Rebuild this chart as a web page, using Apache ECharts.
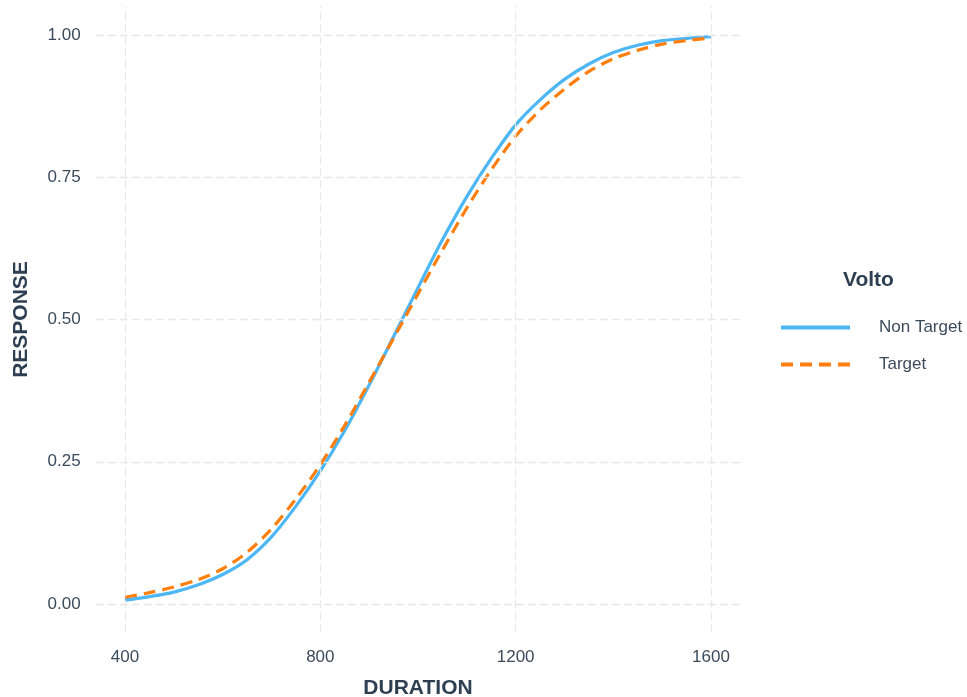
<!DOCTYPE html>
<html>
<head>
<meta charset="utf-8">
<script src="https://cdn.jsdelivr.net/npm/echarts@6/dist/echarts.min.js"></script>
<style>
  html, body { margin: 0; padding: 0; background: #ffffff; }
  #chart { width: 967px; height: 697px; }
</style>
</head>
<body>
<div id="chart"></div>
<script>
// Fitted response curves by stimulus duration
const durations = [400, 450, 500, 550, 600, 650, 700, 750, 800, 850, 900, 950, 1000,
                   1050, 1100, 1150, 1200, 1250, 1300, 1350, 1400, 1450, 1500, 1550, 1600];
const nonTarget = [0.007, 0.013, 0.021, 0.034, 0.052, 0.078, 0.118, 0.172, 0.234, 0.305, 0.385, 0.470, 0.556,
                   0.640, 0.716, 0.783, 0.842, 0.886, 0.922, 0.949, 0.969, 0.982, 0.990, 0.994, 0.997];
const target    = [0.012, 0.020, 0.030, 0.043, 0.062, 0.091, 0.132, 0.185, 0.245, 0.314, 0.390, 0.467, 0.545,
                   0.622, 0.696, 0.763, 0.822, 0.868, 0.905, 0.936, 0.958, 0.973, 0.984, 0.990, 0.995];
const xTicks = [400, 800, 1200, 1600];
const yTicks = [0, 0.25, 0.5, 0.75, 1];
const seriesNames = ['Non Target', 'Target'];

const textColor = '#3b4b5c';
const titleColor = '#2e3f52';
const font = '"Liberation Sans", Arial, sans-serif';
const gridColor = '#e8e8e8';
const blue = '#4db6f4';
const orange = '#ff7f0e';

const chart = echarts.init(document.getElementById('chart'), null, { renderer: 'canvas' });

const pairs = (ys) => durations.map((d, i) => [d, ys[i]]);

chart.setOption({
  animation: false,
  backgroundColor: '#ffffff',
  title: {
    text: 'Volto',
    left: 843,
    top: 270,
    padding: 0,
    textStyle: { fontFamily: font, fontSize: 21, fontWeight: 'bold', color: titleColor }
  },
  legend: {
    data: seriesNames,
    orient: 'vertical',
    left: 779,
    top: 319,
    padding: 0,
    itemWidth: 69,
    itemHeight: 18,
    itemGap: 20,
    itemStyle: { opacity: 0 },
    lineStyle: { width: 4 },
    textStyle: { fontFamily: font, fontSize: 17, color: textColor, padding: [0, 0, 0, 24] }
  },
  grid: {
    left: 95.7, right: 226.7, top: 6.5, bottom: 64.5,
    containLabel: false,
    outerBoundsMode: 'none'
  },
  xAxis: {
    type: 'value',
    min: 340,
    max: 1660,
    name: 'DURATION',
    nameLocation: 'middle',
    nameGap: 45,
    nameTextStyle: { fontFamily: font, fontSize: 21, fontWeight: 'bold', color: titleColor },
    axisLine: { show: false },
    axisTick: { show: false },
    splitLine: { show: false },
    axisLabel: {
      customValues: xTicks,
      fontFamily: font, fontSize: 17, color: textColor, margin: 16,
      formatter: (v) => String(v)
    }
  },
  yAxis: {
    type: 'value',
    min: -0.05,
    max: 1.05,
    name: 'RESPONSE',
    nameLocation: 'middle',
    nameGap: 64,
    nameRotate: 90,
    nameTextStyle: { fontFamily: font, fontSize: 21, fontWeight: 'bold', color: titleColor },
    axisLine: { show: false },
    axisTick: { show: false },
    splitLine: { show: false },
    axisLabel: {
      customValues: yTicks,
      fontFamily: font, fontSize: 17, color: textColor, margin: 15,
      formatter: (v) => v.toFixed(2)
    }
  },
  series: [
    {
      // panel grid lines at the labelled breaks
      name: 'grid',
      type: 'line',
      data: [],
      silent: true,
      markLine: {
        silent: true,
        symbol: 'none',
        label: { show: false },
        lineStyle: { color: gridColor, width: 1.3, type: [8, 4] },
        data: xTicks.map(v => ({ xAxis: v })).concat(yTicks.map(v => ({ yAxis: v })))
      }
    },
    {
      name: seriesNames[0],
      type: 'line',
      data: pairs(nonTarget),
      smooth: 0.3,
      showSymbol: false,
      symbol: 'none',
      lineStyle: { color: blue, width: 3.2 },
      itemStyle: { color: blue },
      z: 3
    },
    {
      name: seriesNames[1],
      type: 'line',
      data: pairs(target),
      smooth: 0.3,
      showSymbol: false,
      symbol: 'none',
      lineStyle: { color: orange, width: 3.2, type: [12, 7] },
      itemStyle: { color: orange },
      z: 4
    }
  ]
});
</script>
</body>
</html>
